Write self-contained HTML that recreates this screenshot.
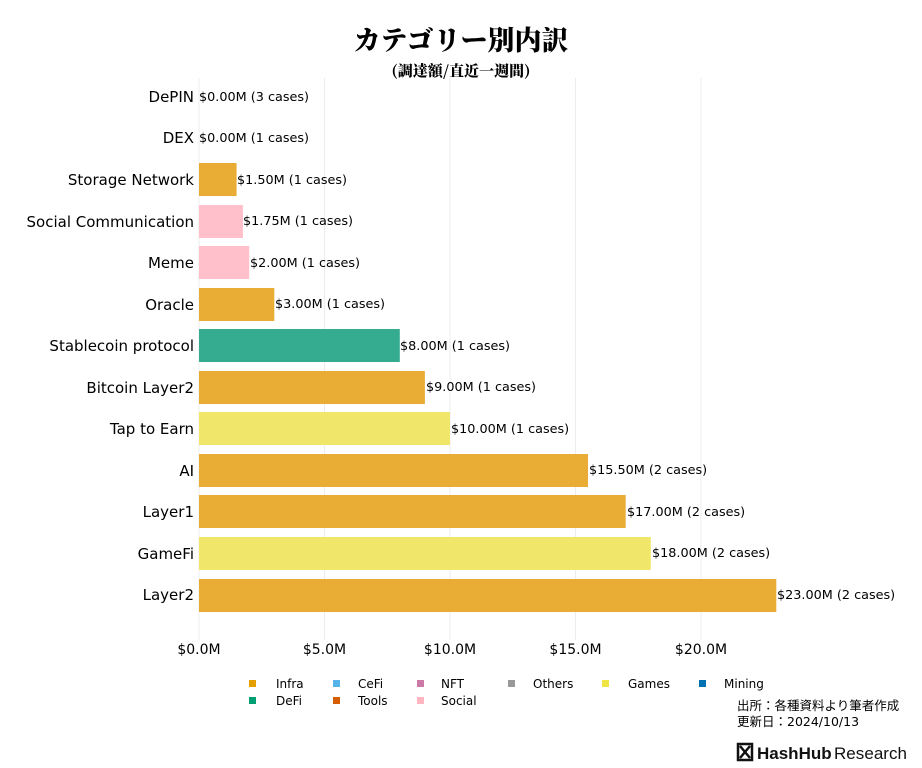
<!DOCTYPE html>
<html><head><meta charset="utf-8"><style>
body{margin:0;background:#fff;}
svg{display:block;font-family:"DejaVu Sans","Noto Sans CJK JP",sans-serif;}
</style></head><body>
<svg width="922" height="768" xmlns="http://www.w3.org/2000/svg">
<rect width="922" height="768" fill="#fff"/>
<text x="461" y="50" text-anchor="middle" font-family="'Noto Serif CJK SC',serif" font-weight="900" font-size="27">カテゴリー別内訳</text>
<text x="461" y="76" text-anchor="middle" font-family="'Noto Serif CJK SC',serif" font-weight="900" font-size="15">(調達額/直近一週間)</text>
<g stroke="#ececec" stroke-width="1">
<line x1="199" y1="78" x2="199" y2="640"/><line x1="324.5" y1="78" x2="324.5" y2="640"/><line x1="450" y1="78" x2="450" y2="640"/><line x1="575.5" y1="78" x2="575.5" y2="640"/><line x1="701" y1="78" x2="701" y2="640"/>
</g>
<g font-size="14" text-anchor="middle" fill="#000">
<text x="199" y="654">$0.0M</text><text x="324.5" y="654">$5.0M</text><text x="450" y="654">$10.0M</text><text x="575.5" y="654">$15.0M</text><text x="701" y="654">$20.0M</text>
</g>
<g id="bars" font-size="12.8">
<text x="199" y="101">$0.00M (3 cases)</text>
<text x="199" y="142">$0.00M (1 cases)</text>
<rect x="199" y="163" width="37.6" height="33" fill="#e8a92a" opacity="0.95"/><text x="237" y="184">$1.50M (1 cases)</text>
<rect x="199" y="205" width="43.9" height="33" fill="#ffc0cb"/><text x="243" y="225">$1.75M (1 cases)</text>
<rect x="199" y="246" width="50.2" height="33" fill="#ffc0cb"/><text x="250" y="267">$2.00M (1 cases)</text>
<rect x="199" y="288" width="75.3" height="33" fill="#e8a92a" opacity="0.95"/><text x="275" y="308">$3.00M (1 cases)</text>
<rect x="199" y="329" width="200.8" height="33" fill="#2aa889" opacity="0.95"/><text x="400" y="350">$8.00M (1 cases)</text>
<rect x="199" y="371" width="225.9" height="33" fill="#e8a92a" opacity="0.95"/><text x="426" y="391">$9.00M (1 cases)</text>
<rect x="199" y="412" width="251" height="33" fill="#f0e66a"/><text x="451" y="433">$10.00M (1 cases)</text>
<rect x="199" y="454" width="389" height="33" fill="#e8a92a" opacity="0.95"/><text x="589" y="474">$15.50M (2 cases)</text>
<rect x="199" y="495" width="426.7" height="33" fill="#e8a92a" opacity="0.95"/><text x="627" y="516">$17.00M (2 cases)</text>
<rect x="199" y="537" width="451.8" height="33" fill="#f0e66a"/><text x="652" y="557">$18.00M (2 cases)</text>
<rect x="199" y="579" width="577.3" height="33" fill="#e8a92a" opacity="0.95"/><text x="777" y="599">$23.00M (2 cases)</text>
</g>
<g font-size="15" text-anchor="end">
<text x="194" y="102">DePIN</text><text x="194" y="143">DEX</text><text x="194" y="185">Storage Network</text><text x="194" y="227">Social Communication</text><text x="194" y="268">Meme</text><text x="194" y="310">Oracle</text><text x="194" y="351">Stablecoin protocol</text><text x="194" y="393">Bitcoin Layer2</text><text x="194" y="434">Tap to Earn</text><text x="194" y="476">AI</text><text x="194" y="517">Layer1</text><text x="194" y="559">GameFi</text><text x="194" y="600">Layer2</text>
</g>
<g font-size="12">
<rect x="249" y="680" width="7" height="7" fill="#e69f00"/><text x="276" y="688">Infra</text>
<rect x="333" y="680" width="7" height="7" fill="#56b4e9"/><text x="358" y="688">CeFi</text>
<rect x="417" y="680" width="7" height="7" fill="#cc79a7"/><text x="441" y="688">NFT</text>
<rect x="508" y="680" width="7" height="7" fill="#999"/><text x="533" y="688">Others</text>
<rect x="602" y="680" width="7" height="7" fill="#f0e442"/><text x="628" y="688">Games</text>
<rect x="699" y="680" width="7" height="7" fill="#0072b2"/><text x="724" y="688">Mining</text>
<rect x="249" y="697" width="7" height="7" fill="#009e73"/><text x="276" y="705">DeFi</text>
<rect x="333" y="697" width="7" height="7" fill="#d55e00"/><text x="358" y="705">Tools</text>
<rect x="417" y="697" width="7" height="7" fill="#ffb6c1"/><text x="441" y="705">Social</text>
<text x="737" y="710" font-size="12.5">出所：各種資料より筆者作成</text>
<text x="737" y="726" font-size="12.5">更新日：2024/10/13</text>
</g>
<g>
<rect x="738" y="744" width="14" height="16" fill="none" stroke="#111" stroke-width="2.5"/>
<path d="M740 746 L750 758 M750 746 L740 758" stroke="#111" stroke-width="2.5"/>
<text x="757" y="759" font-family="'Liberation Sans',sans-serif" font-weight="bold" font-size="17" fill="#111">HashHub</text>
<text x="834" y="759" font-family="'Liberation Sans',sans-serif" font-size="17" fill="#111" textLength="73">Research</text>
</g>
</svg>
</body></html>
